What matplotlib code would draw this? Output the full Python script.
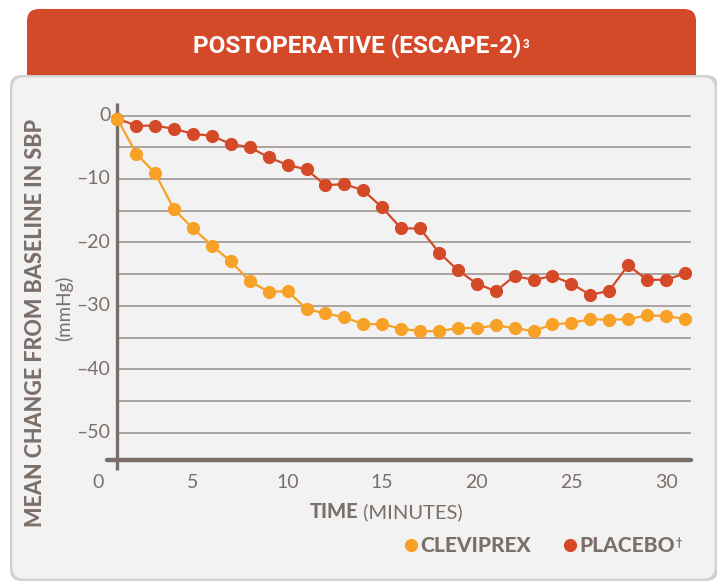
import matplotlib
matplotlib.use("Agg")
import matplotlib.pyplot as plt
from matplotlib.patches import FancyBboxPatch
from matplotlib import transforms
from matplotlib import font_manager as fm

# ---------------- data ----------------
time_min = [1, 2, 3, 4, 5, 6, 7, 8, 9, 10, 11, 12, 13, 14, 15, 16,
            17, 18, 19, 20, 21, 22, 23, 24, 25, 26, 27, 28, 29, 30, 31]
cleviprex = [-0.5, -6.0, -9.1, -14.8, -17.8, -20.5, -23.0, -26.1, -27.8, -27.7,
             -30.5, -31.2, -31.8, -32.9, -32.9, -33.6, -34.0, -34.0, -33.5, -33.5,
             -33.1, -33.5, -34.0, -32.9, -32.7, -32.1, -32.2, -32.1, -31.5, -31.6, -32.1]
placebo = [-0.5, -1.6, -1.6, -2.1, -2.9, -3.2, -4.5, -5.0, -6.6, -7.8,
           -8.5, -11.0, -10.8, -11.8, -14.5, -17.8, -17.8, -21.6, -24.4, -26.5,
           -27.7, -25.3, -25.9, -25.3, -26.5, -28.3, -27.6, -23.6, -25.9, -25.9, -24.9]
x_ticks = [0, 5, 10, 15, 20, 25, 30]
y_ticks = [0, -10, -20, -30, -40, -50]
grid_levels = [0, -5, -10, -15, -20, -25, -30, -35, -40, -45, -50]

title = "POSTOPERATIVE (ESCAPE-2)"
series_names = ["CLEVIPREX", "PLACEBO"]

# ---------------- style ----------------
ORANGE = "#F7A126"
RED = "#D44A28"
TEXT = "#7B6F69"
SPINE = "#7A6E68"
GRID = "#ABA39F"
PANEL = "#F2F2F2"
HEADER = "#D44A28"

def has_font(name):
    try:
        fm.findfont(fm.FontProperties(family=name), fallback_to_default=False)
        return True
    except Exception:
        return False

BODY = ["Lato", "DejaVu Sans"]
NARROW = ["Liberation Sans Narrow", "Roboto", "DejaVu Sans"] if has_font("Liberation Sans Narrow") else ["Roboto", "DejaVu Sans"]

W, H = 717, 581
fig = plt.figure(figsize=(W / 100, H / 100), dpi=100)
fig.patch.set_facecolor("#FFFFFF")

bg = fig.add_axes([0, 0, 1, 1])
bg.set_xlim(0, W)
bg.set_ylim(H, 0)
bg.axis("off")

# header shadow + header
bg.add_patch(FancyBboxPatch((29, 11), 667, 100, boxstyle="round,pad=0,rounding_size=12",
                            fc="#BBBBBB", ec="none", alpha=0.5))
bg.add_patch(FancyBboxPatch((27, 9), 669, 100, boxstyle="round,pad=0,rounding_size=12",
                            fc=HEADER, ec="none"))
# panel shadow + panel
bg.add_patch(FancyBboxPatch((10, 75), 708, 506, boxstyle="round,pad=0,rounding_size=12",
                            fc="#CFCFCF", ec="none"))
bg.add_patch(FancyBboxPatch((12, 77), 703, 502, boxstyle="round,pad=0,rounding_size=12",
                            fc=PANEL, ec="#DADADA", lw=0.8))

# title with superscript attached
t_obj = bg.text(357, 46, title, color="white", fontsize=17.5, fontweight="bold",
                family=NARROW, ha="center", va="center")
bg.annotate("3", xy=(1, 1), xycoords=t_obj, xytext=(1, -3), textcoords="offset points",
            color="white", fontsize=8.5, fontweight="bold", family=NARROW,
            ha="left", va="top")

# ---------------- chart axes ----------------
x0, x1 = 0.45, 31.3
y0, y1 = -56.0, 2.5
px_left = 98.4 + 18.92 * x0
px_right = 98.4 + 18.92 * x1
py_top = 115.5 - 6.344 * y1
py_bot = 115.5 - 6.344 * y0
ax = fig.add_axes([px_left / W, 1 - py_bot / H, (px_right - px_left) / W, (py_bot - py_top) / H])
ax.set_xlim(x0, x1)
ax.set_ylim(y0, y1)
ax.set_facecolor("none")
for s in ax.spines.values():
    s.set_visible(False)
ax.set_xticks([])
ax.set_yticks([])

ax.hlines(grid_levels, 1.0, x1, colors=GRID, lw=1.4, zorder=1)
ax.plot([1.0, 1.0], [-55.9, 2.0], color=SPINE, lw=2.4, solid_capstyle="butt", zorder=2, clip_on=False)
ax.plot([x0, x1], [-54.3, -54.3], color=SPINE, lw=3.2, solid_capstyle="round", zorder=2, clip_on=False)

ax.plot(time_min, placebo, color=RED, lw=1.6, marker="o", ms=9.5, mec="none", zorder=3)
ax.plot(time_min, cleviprex, color=ORANGE, lw=1.6, marker="o", ms=9.5, mec="none", zorder=4)

ylab_tr = transforms.offset_copy(ax.transData, fig=fig, x=-5, y=0, units="points")
for v in y_ticks:
    lab = "0" if v == 0 else "\u2013" + str(abs(v))
    ax.text(1.0, v, lab, transform=ylab_tr, ha="right", va="center",
            fontsize=14, color=TEXT, family=BODY, clip_on=False)
xlab_tr = transforms.offset_copy(ax.transData, fig=fig, x=0, y=-10, units="points")
for t in x_ticks:
    ax.text(t, -54.3, str(t), transform=xlab_tr, ha="center", va="top",
            fontsize=14, color=TEXT, family=BODY, clip_on=False)

# axis titles
bg.text(358, 512, "TIME", color=TEXT, fontsize=14.5, fontweight="black", family=BODY,
        ha="right", va="center")
bg.text(358, 512, " (MINUTES)", color=TEXT, fontsize=14.5, family=BODY,
        ha="left", va="center")
bg.text(36, 323, "MEAN CHANGE FROM BASELINE IN SBP", color=TEXT, fontsize=15.5,
        fontweight="black", family=BODY, rotation=90, ha="center", va="center")
bg.text(64, 308, "(mmHg)", color=TEXT, fontsize=13.5, family=BODY,
        rotation=90, ha="center", va="center")

# legend
bg.plot([411], [545], marker="o", ms=9.5, color=ORANGE, mec="none")
bg.text(420, 545, series_names[0], color=TEXT, fontsize=15, fontweight="black",
        family=BODY, ha="left", va="center")
bg.plot([570], [545], marker="o", ms=9.5, color=RED, mec="none")
p_obj = bg.text(579, 545, series_names[1], color=TEXT, fontsize=15, fontweight="black",
                family=BODY, ha="left", va="center")
bg.annotate("\u2020", xy=(1, 1), xycoords=p_obj, xytext=(0.5, -1), textcoords="offset points",
            color=TEXT, fontsize=8, fontweight="bold", family=BODY, ha="left", va="top")

fig.savefig("out.png", dpi=100, facecolor=fig.get_facecolor())
